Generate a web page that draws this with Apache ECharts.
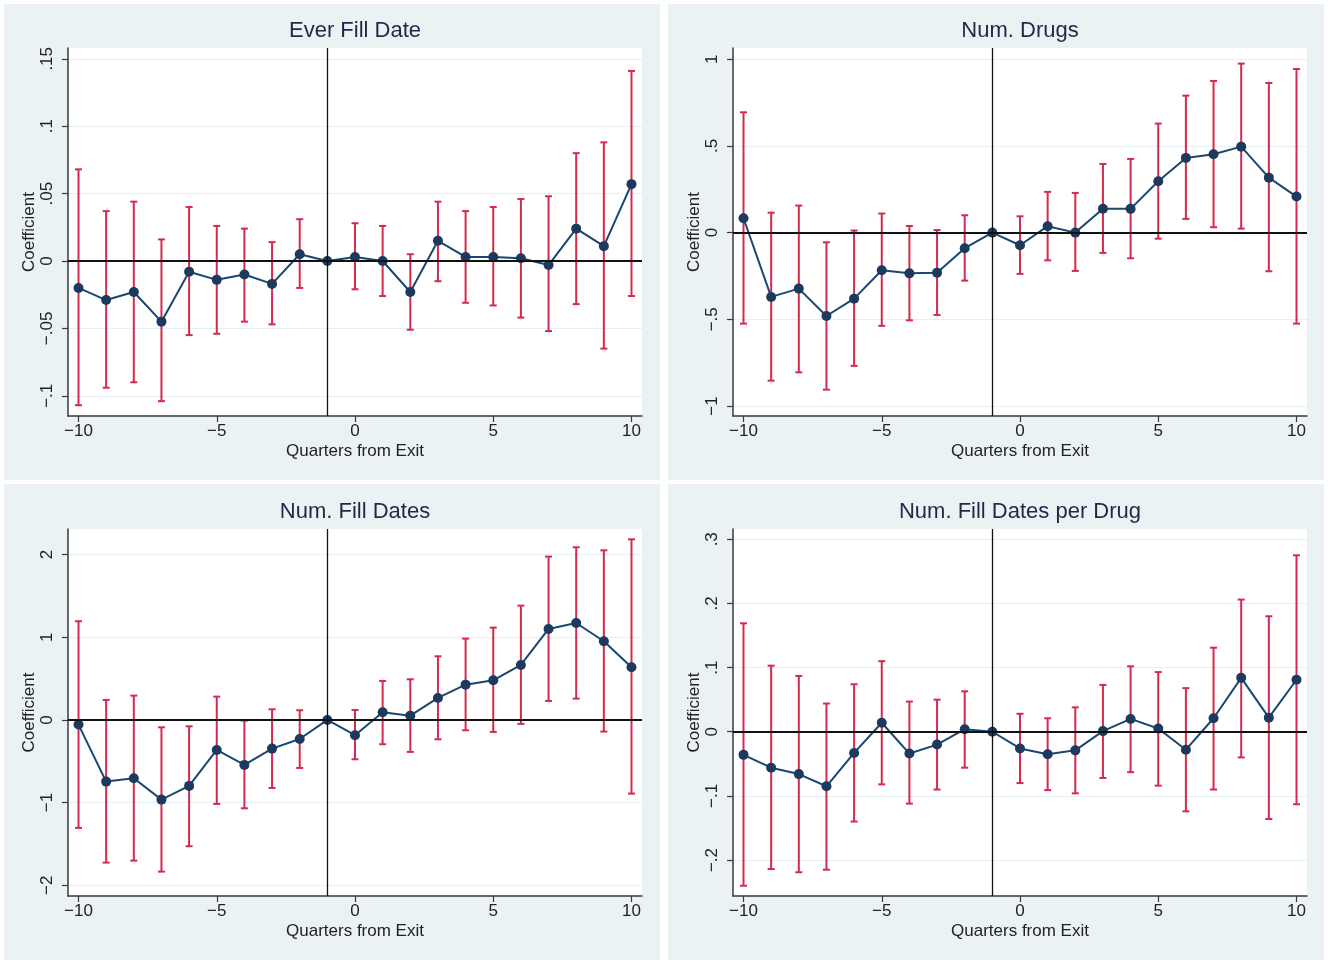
<!DOCTYPE html>
<html>
<head>
<meta charset="utf-8">
<script src="https://cdn.jsdelivr.net/npm/echarts@6/dist/echarts.min.js"></script>
<style>
html,body{margin:0;padding:0;background:#ffffff;}
#chart{width:1332px;height:960px;}
</style>
</head>
<body>
<div id="chart"></div>
<script>
// ---------- data ----------
const quarters = [-10,-9,-8,-7,-6,-5,-4,-3,-2,-1,0,1,2,3,4,5,6,7,8,9,10];
const xTicks = [-10,-5,0,5,10];

const title1 = 'Ever Fill Date';
const coef1 = [-0.020,-0.029,-0.023,-0.045,-0.008,-0.014,-0.010,-0.017,0.005,0,0.003,0,-0.023,0.015,0.003,0.003,0.002,-0.003,0.024,0.011,0.057];
const hi1   = [0.068,0.037,0.044,0.016,0.040,0.026,0.024,0.014,0.031,null,0.028,0.026,0.005,0.044,0.037,0.040,0.046,0.048,0.080,0.088,0.141];
const lo1   = [-0.107,-0.094,-0.090,-0.104,-0.055,-0.054,-0.045,-0.047,-0.020,null,-0.021,-0.026,-0.051,-0.015,-0.031,-0.033,-0.042,-0.052,-0.032,-0.065,-0.026];
const yTicks1 = [-0.1,-0.05,0,0.05,0.1,0.15];

const title2 = 'Num. Drugs';
const coef2 = [0.083,-0.371,-0.323,-0.481,-0.381,-0.217,-0.235,-0.231,-0.090,0,-0.073,0.037,0,0.138,0.137,0.296,0.431,0.452,0.496,0.317,0.208];
const hi2   = [0.694,0.115,0.156,-0.056,0.012,0.110,0.038,0.015,0.100,null,0.094,0.235,0.229,0.396,0.425,0.629,0.790,0.875,0.975,0.863,0.944];
const lo2   = [-0.525,-0.854,-0.806,-0.906,-0.769,-0.538,-0.506,-0.475,-0.277,null,-0.238,-0.160,-0.221,-0.117,-0.148,-0.035,0.079,0.031,0.023,-0.223,-0.525];
const yTicks2 = [-1,-0.5,0,0.5,1];

const title3 = 'Num. Fill Dates';
const coef3 = [-0.056,-0.746,-0.706,-0.964,-0.798,-0.363,-0.544,-0.347,-0.230,0,-0.185,0.093,0.052,0.266,0.427,0.480,0.665,1.101,1.173,0.952,0.637];
const hi3   = [1.194,0.242,0.294,-0.089,-0.077,0.282,-0.008,0.129,0.117,null,0.121,0.472,0.492,0.770,0.984,1.117,1.383,1.976,2.089,2.052,2.185];
const lo3   = [-1.306,-1.726,-1.702,-1.835,-1.528,-1.016,-1.069,-0.823,-0.581,null,-0.476,-0.294,-0.387,-0.234,-0.125,-0.145,-0.048,0.230,0.258,-0.141,-0.891];
const yTicks3 = [-2,-1,0,1,2];

const title4 = 'Num. Fill Dates per Drug';
const coef4 = [-0.036,-0.056,-0.066,-0.085,-0.033,0.014,-0.034,-0.020,0.004,0,-0.026,-0.035,-0.029,0.001,0.020,0.005,-0.028,0.021,0.084,0.022,0.081];
const hi4   = [0.169,0.103,0.087,0.044,0.074,0.110,0.047,0.050,0.063,null,0.028,0.021,0.038,0.073,0.102,0.093,0.068,0.131,0.206,0.180,0.275];
const lo4   = [-0.240,-0.214,-0.219,-0.215,-0.140,-0.082,-0.112,-0.090,-0.056,null,-0.080,-0.091,-0.096,-0.072,-0.063,-0.084,-0.124,-0.090,-0.040,-0.136,-0.113];
const yTicks4 = [-0.2,-0.1,0,0.1,0.2,0.3];

const eventLine = -1;
const xTitle = 'Quarters from Exit';
const yTitle = 'Coefficient';

// ---------- layout / style ----------
const FONT = '"Liberation Sans", Arial, sans-serif';
const PANEL_BG = '#EAF2F3';
const BAR_COLOR = '#D42A50';
const LINE_COLOR = '#1A476F';
const DOT_COLOR = '#1B3A5E';
const AXIS_COLOR = '#3a3a3a';
const TEXT_COLOR = '#222222';

const panels = [
  {title: title1, coef: coef1, hi: hi1, lo: lo1, yTicks: yTicks1, yMin: -0.115, yMax: 0.158,
   grid: {left: 68, top: 48, width: 574, height: 368}, bg: [4, 4, 656, 476]},
  {title: title2, coef: coef2, hi: hi2, lo: lo2, yTicks: yTicks2, yMin: -1.058, yMax: 1.065,
   grid: {left: 733, top: 48, width: 574, height: 368}, bg: [668, 4, 656, 476]},
  {title: title3, coef: coef3, hi: hi3, lo: lo3, yTicks: yTicks3, yMin: -2.13, yMax: 2.31,
   grid: {left: 68, top: 529, width: 574, height: 367}, bg: [4, 484, 656, 476]},
  {title: title4, coef: coef4, hi: hi4, lo: lo4, yTicks: yTicks4, yMin: -0.256, yMax: 0.316,
   grid: {left: 733, top: 529, width: 574, height: 367}, bg: [668, 484, 656, 476]}
];

function fmtNum(v) {
  if (v === 0) return '0';
  let s = String(Math.abs(v));
  if (s.indexOf('0.') === 0) s = s.slice(1);
  return (v < 0 ? '\u2212' : '') + s;
}

function errRender(params, api) {
  const x = api.value(0), lo = api.value(1), hi = api.value(2);
  const pHi = api.coord([x, hi]);
  const pLo = api.coord([x, lo]);
  const w = 3.5;
  const st = {stroke: BAR_COLOR, lineWidth: 2};
  return {
    type: 'group',
    children: [
      {type: 'line', shape: {x1: pHi[0], y1: pHi[1], x2: pLo[0], y2: pLo[1]}, style: st},
      {type: 'line', shape: {x1: pHi[0] - w, y1: pHi[1], x2: pHi[0] + w, y2: pHi[1]}, style: st},
      {type: 'line', shape: {x1: pLo[0] - w, y1: pLo[1], x2: pLo[0] + w, y2: pLo[1]}, style: st}
    ]
  };
}

const grids = [], xAxes = [], yAxes = [], series = [], graphics = [];

panels.forEach((p, i) => {
  graphics.push({
    type: 'rect', z: -10, silent: true,
    shape: {x: p.bg[0], y: p.bg[1], width: p.bg[2], height: p.bg[3]},
    style: {fill: PANEL_BG}
  });
  graphics.push({
    type: 'text', silent: true,
    x: p.grid.left + p.grid.width / 2, y: p.grid.top - 17,
    style: {text: p.title, font: '22px ' + FONT, fill: '#1C2A48', textAlign: 'center', textVerticalAlign: 'middle'}
  });

  grids.push(Object.assign({show: true, backgroundColor: '#ffffff', borderWidth: 0}, p.grid));

  xAxes.push({
    type: 'value', gridIndex: i, min: -10.38, max: 10.38,
    name: xTitle, nameLocation: 'middle', nameGap: 27,
    nameTextStyle: {fontFamily: FONT, fontSize: 17, color: TEXT_COLOR},
    axisLine: {show: true, onZero: false, lineStyle: {color: AXIS_COLOR, width: 1.5}},
    axisTick: {show: true, length: 6, customValues: xTicks, lineStyle: {color: AXIS_COLOR, width: 1.2}},
    axisLabel: {customValues: xTicks, formatter: fmtNum, fontFamily: FONT, fontSize: 17, color: TEXT_COLOR, margin: 7},
    splitLine: {show: false}
  });

  yAxes.push({
    type: 'value', gridIndex: i, min: p.yMin, max: p.yMax,
    name: yTitle, nameLocation: 'middle', nameGap: 28, nameRotate: 90,
    nameTextStyle: {fontFamily: FONT, fontSize: 17, color: TEXT_COLOR},
    axisLine: {show: true, onZero: false, lineStyle: {color: AXIS_COLOR, width: 1.5}},
    axisTick: {show: true, length: 6, customValues: p.yTicks, lineStyle: {color: AXIS_COLOR, width: 1.2}},
    axisLabel: {customValues: p.yTicks, formatter: fmtNum, rotate: 90, fontFamily: FONT, fontSize: 17, color: TEXT_COLOR, margin: 12},
    splitLine: {show: true, lineStyle: {color: '#E6EFF1', width: 1.2}}
  });

  const errData = [];
  quarters.forEach((q, k) => {
    if (p.hi[k] !== null && p.lo[k] !== null) errData.push([q, p.lo[k], p.hi[k]]);
  });

  series.push({
    type: 'custom', xAxisIndex: i, yAxisIndex: i, z: 3, silent: true,
    renderItem: errRender, encode: {x: 0, y: [1, 2]}, data: errData,
    markLine: {
      silent: true, symbol: 'none', label: {show: false}, animation: false,
      data: [
        {xAxis: eventLine, lineStyle: {color: '#111', width: 1.3, type: 'solid'}},
        {yAxis: 0, lineStyle: {color: '#111', width: 2, type: 'solid'}}
      ]
    }
  });

  series.push({
    type: 'line', xAxisIndex: i, yAxisIndex: i, z: 4, silent: true,
    data: quarters.map((q, k) => [q, p.coef[k]]),
    symbol: 'circle', symbolSize: 10, showSymbol: true,
    lineStyle: {color: LINE_COLOR, width: 2},
    itemStyle: {color: DOT_COLOR, borderWidth: 0},
    animation: false
  });
});

const chart = echarts.init(document.getElementById('chart'), null, {renderer: 'canvas'});
chart.setOption({
  backgroundColor: '#ffffff',
  animation: false,
  grid: grids,
  xAxis: xAxes,
  yAxis: yAxes,
  series: series,
  graphic: graphics
});
</script>
</body>
</html>
